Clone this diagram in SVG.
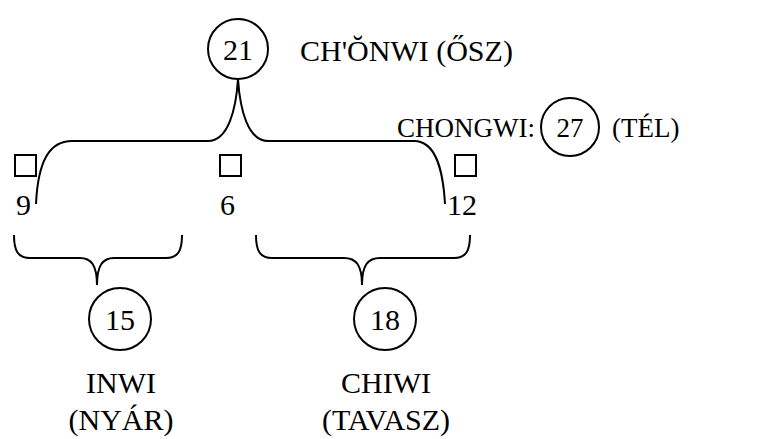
<svg xmlns="http://www.w3.org/2000/svg" width="774" height="439" viewBox="0 0 774 439">
<style>
text{font-family:'Liberation Serif','Times New Roman',serif;font-size:30px;fill:#000}
.c{text-anchor:middle}
.s{font-size:27px}
.ln{fill:none;stroke:#000;stroke-width:2}
.bg{fill:#fff;stroke:none}
</style>
<rect class="bg" width="774" height="439"/>
<g id="connectors">
<path class="ln" d="M36,204 C38,160 50,141 72,141 L208,141 C228,141 236,110 238,79 C240,110 248,141 268,141 L414,141 C436,141 443,170 445,204"/>
<path class="ln" d="M14,235 C14,251 18,258 30,258 L80,258 C91,258 97,265 97,285 C97,265 103,258 114,258 L166,258 C178,258 182,251 182,235"/>
<path class="ln" d="M256,235 C256,251 260,258 272,258 L344,258 C356,258 362,265 362,285 C362,265 368,258 380,258 L454,258 C466,258 470,251 470,235"/>
</g>
<g id="n21">
<circle class="ln" cx="238" cy="49" r="30"/>
<text class="c" x="238" y="60">21</text>
<text x="300" y="61">CH'ŎNWI (ŐSZ)</text>
</g>
<g id="n27">
<text class="s" x="397" y="137">CHONGWI:</text>
<circle class="ln" cx="570" cy="127" r="29"/>
<text class="c s" x="570" y="137">27</text>
<text class="s" x="612" y="137">(TÉL)</text>
</g>
<g id="n9">
<rect class="ln" x="15" y="155" width="21" height="21"/>
<text x="16" y="215">9</text>
</g>
<g id="n6">
<rect class="ln" x="220" y="155" width="21" height="21"/>
<text x="220" y="215">6</text>
</g>
<g id="n12">
<rect class="ln" x="455" y="155" width="21" height="21"/>
<text x="447" y="215">12</text>
</g>
<g id="n15">
<circle class="ln" cx="120" cy="319" r="31"/>
<text class="c" x="120" y="330">15</text>
<text class="c" x="121" y="393">INWI</text>
<text class="c" x="121" y="430">(NYÁR)</text>
</g>
<g id="n18">
<circle class="ln" cx="385" cy="319" r="31"/>
<text class="c" x="385" y="330">18</text>
<text class="c" x="386" y="393">CHIWI</text>
<text class="c" x="386" y="430">(TAVASZ)</text>
</g>
</svg>
